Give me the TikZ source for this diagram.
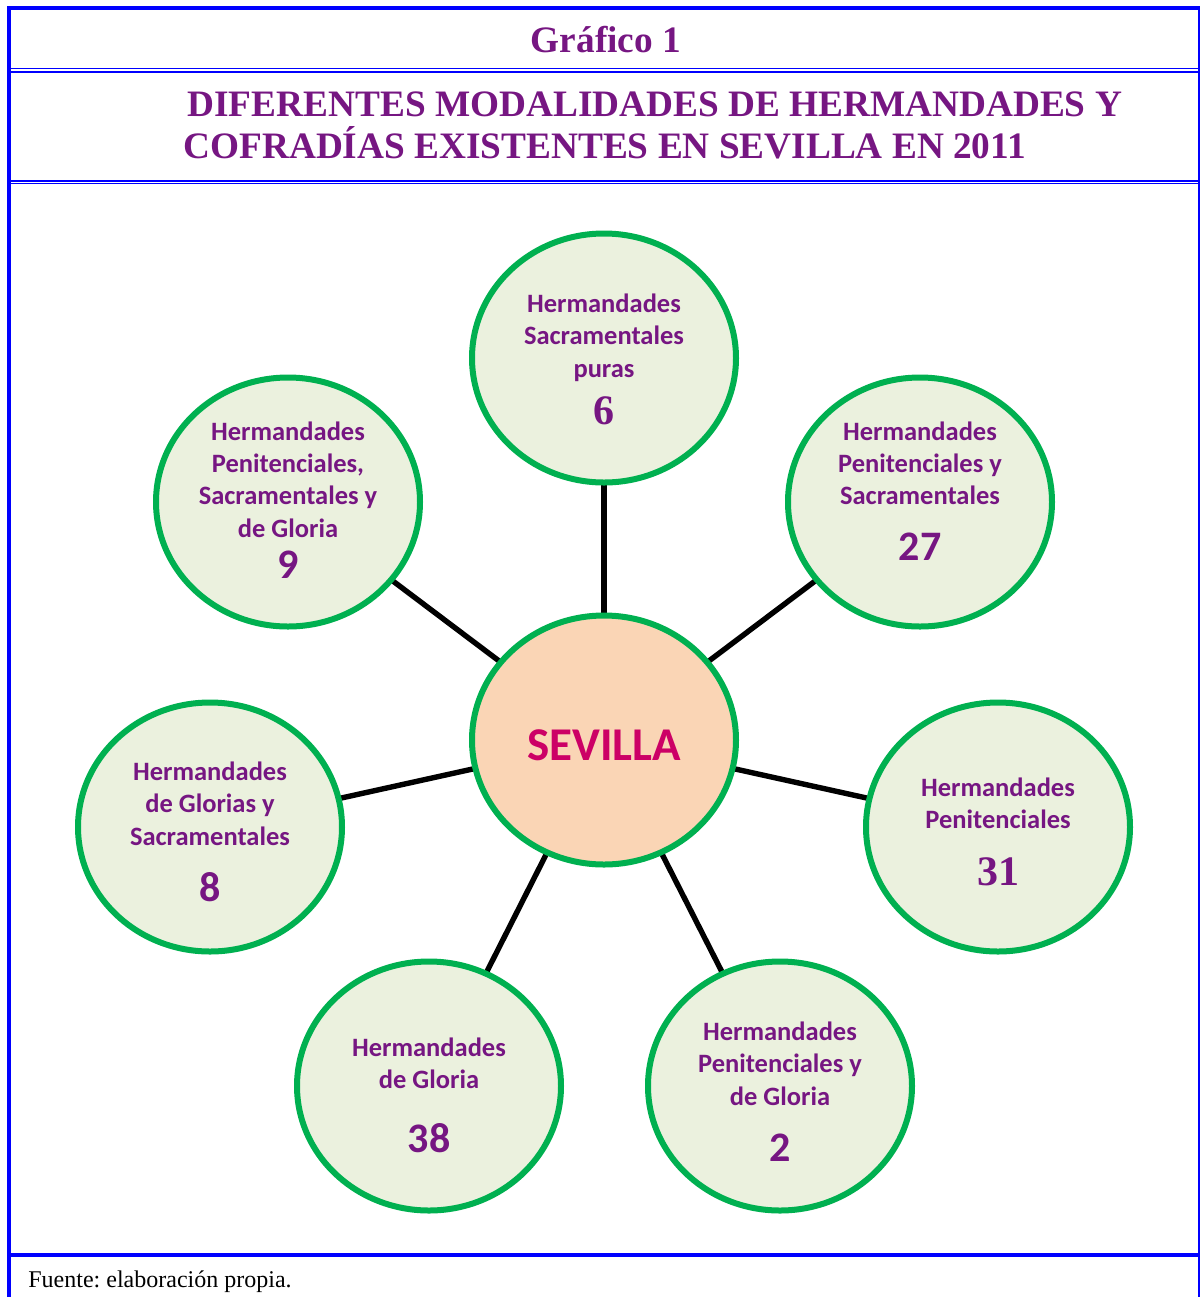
\documentclass[tikz,border=0pt]{standalone}
\usepackage{fontspec}
\setmainfont{Liberation Serif}
\newfontfamily\calfont{Carlito}
\usetikzlibrary{shapes.geometric,backgrounds}
\definecolor{bordblue}{RGB}{0,0,255}
\definecolor{cgreen}{RGB}{0,176,80}
\definecolor{cfill}{RGB}{235,241,222}
\definecolor{cpeach}{RGB}{250,213,181}
\definecolor{cpurple}{RGB}{118,22,130}
\definecolor{cred}{RGB}{204,0,102}
\tikzset{
  bubble/.style={ellipse, draw=cgreen, line width=3pt, fill=cfill, minimum width=132pt, minimum height=124.5pt, inner sep=0pt, outer sep=0pt},
  hub/.style={bubble, fill=cpeach},
  lbl/.style={anchor=base, text=cpurple, font=\calfont\bfseries\fontsize{13.25}{16}\selectfont, inner sep=0pt},
  num/.style={anchor=base, text=cpurple, font=\calfont\bfseries\fontsize{21}{24}\selectfont, inner sep=0pt},
  snum/.style={anchor=base, text=cpurple, font=\bfseries\fontsize{21}{24}\selectfont, inner sep=0pt},
  spoke/.style={line width=2.7pt, black},
  frame/.style={bordblue},
  title/.style={text=cpurple, font=\bfseries\fontsize{18.65}{22}\selectfont, inner sep=0pt}
}
\begin{document}
\frenchspacing
\begin{tikzpicture}[x=0.5pt,y=-0.5pt]
\useasboundingbox (0,0) rectangle (1200,1297);
% frame
\draw[frame, line width=2pt] (9,6) -- (9,1297);
\draw[frame, line width=2pt] (7,8) -- (1200,8);
\draw[frame, line width=1pt] (1198.7,6) -- (1198.7,1297);
\draw[frame, line width=0.8pt] (11,68.6) -- (1198,68.6);
\draw[frame, line width=0.8pt] (11,71.9) -- (1198,71.9);
\draw[frame, line width=0.8pt] (11,180.9) -- (1198,180.9);
\draw[frame, line width=0.8pt] (11,183.6) -- (1198,183.6);
\draw[frame, line width=2.2pt] (11,1255) -- (1198,1255);
% titles
\node[title, anchor=base] (gtitle) at (606,52) {Gráfico 1};
\node[title, anchor=base west] (title1) at (187,116) {DIFERENTES MODALIDADES DE HERMANDADES Y};
\node[title, anchor=base west] (title2) at (183,158) {COFRADÍAS EXISTENTES EN SEVILLA EN 2011};
\node[anchor=base west, inner sep=0pt, font=\fontsize{12}{14}\selectfont] (fuente) at (28,1287) {Fuente: elaboración propia.};
% bubbles
\node[hub] (c) at (604,740) {};
\node[bubble] (n1) at (604,358) {};
\node[bubble] (n2) at (920,502) {};
\node[bubble] (n3) at (998,827) {};
\node[bubble] (n4) at (780,1086) {};
\node[bubble] (n5) at (429,1086) {};
\node[bubble] (n6) at (210,827) {};
\node[bubble] (n7) at (288,502) {};
% spokes
\begin{scope}[on background layer]
\foreach \k in {1,...,7} \draw[spoke] (c) -- (n\k);
\end{scope}
% center text
\node[anchor=base, inner sep=0pt, text=cred, font=\calfont\bfseries\fontsize{23.5}{28}\selectfont] (sev) at (604,760) {SEVILLA};
% n1
\node[lbl] (a1) at (604,312) {Hermandades};
\node[lbl] (a2) at (604,344.5) {Sacramentales};
\node[lbl] (a3) at (604,377) {puras};
\node[snum] (a4) at (604,424) {6};
% n2
\node[lbl] (b1) at (920,440) {Hermandades};
\node[lbl] (b2) at (920,472) {Penitenciales y};
\node[lbl] (b3) at (920,504.5) {Sacramentales};
\node[num] (b4) at (920,560) {27};
% n3
\node[lbl] (d1) at (998,796) {Hermandades};
\node[lbl] (d2) at (998,828.5) {Penitenciales};
\node[snum] (d3) at (998,885) {31};
% n4
\node[lbl] (e1) at (780,1040) {Hermandades};
\node[lbl] (e2) at (780,1072.5) {Penitenciales y};
\node[lbl] (e3) at (780,1105) {de Gloria};
\node[num] (e4) at (780,1161) {2};
% n5
\node[lbl] (f1) at (429,1056) {Hermandades};
\node[lbl] (f2) at (429,1088.5) {de Gloria};
\node[num] (f3) at (429,1152) {38};
% n6
\node[lbl] (g1) at (210,780) {Hermandades};
\node[lbl] (g2) at (210,812.5) {de Glorias y};
\node[lbl] (g3) at (210,845) {Sacramentales};
\node[num] (g4) at (210,901) {8};
% n7
\node[lbl] (h1) at (288,440) {Hermandades};
\node[lbl] (h2) at (288,472) {Penitenciales,};
\node[lbl] (h3) at (288,504.5) {Sacramentales y};
\node[lbl] (h4) at (288,537) {de Gloria};
\node[num] (h5) at (288,578) {9};
\end{tikzpicture}
\end{document}
